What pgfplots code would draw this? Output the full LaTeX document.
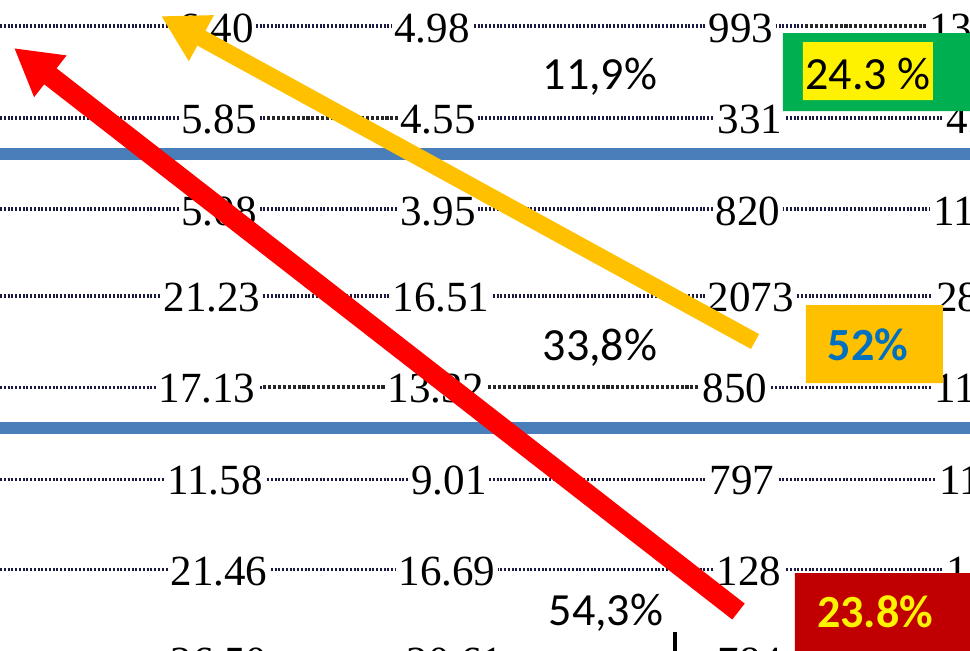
\documentclass[border=0pt]{standalone}
\usepackage{pgfplots}
\pgfplotsset{compat=1.18}
\usepackage{fontspec}
\setmainfont{Liberation Serif}
\newfontfamily\calibri{Carlito}
\usetikzlibrary{arrows.meta}
\definecolor{gold}{HTML}{FFC000}
\definecolor{rowblue}{HTML}{4A7EBB}
\definecolor{boxgreen}{HTML}{00B050}
\definecolor{darkred}{HTML}{C00000}
\definecolor{txtblue}{HTML}{0070C0}
\definecolor{leader}{HTML}{1A1A40}
\tikzset{
 num/.style={font=\fontsize{18.3pt}{20pt}\selectfont, fill=white, inner xsep=1.2pt, inner ysep=0pt, anchor=base},
 numw/.style={font=\fontsize{18.3pt}{20pt}\selectfont, fill=white, inner xsep=1.2pt, inner ysep=0pt, anchor=base west},
 pct/.style={font=\calibri\fontsize{19.6pt}{22pt}\selectfont, inner sep=0pt, anchor=base},
 pctb/.style={font=\calibri\bfseries\fontsize{19.6pt}{22pt}\selectfont, inner sep=0pt, anchor=base},
 dots/.style={line width=1.3pt, dash pattern=on 0.85pt off 0.75pt, color=leader},
 dense/.style={line width=1.7pt, dash pattern=on 1.3pt off 0.8pt, color=black!85},
}
\begin{document}
\begin{tikzpicture}[x=1pt,y=1pt]
\useasboundingbox (0,0) rectangle (412.6,276.5);
\clip (0,0) rectangle (412.6,276.5);
\begin{axis}[scale only axis, width=412.6pt, height=276.5pt,
  xmin=0, xmax=970, ymin=0, ymax=650, y dir=reverse,
  hide axis, no markers, clip=true]
% dotted leader rows
\addplot[dots] coordinates {(0,26) (970,26)};
\addplot[dots] coordinates {(0,118) (970,118)};
\addplot[dots] coordinates {(0,209) (970,209)};
\addplot[dots] coordinates {(0,296) (970,296)};
\addplot[dots] coordinates {(0,387) (970,387)};
\addplot[dots] coordinates {(0,479) (970,479)};
\addplot[dots] coordinates {(0,569) (970,569)};
% denser leader segments
\addplot[draw=white, line width=2pt] coordinates {(805,26) (925,26)};
\addplot[draw=white, line width=2pt] coordinates {(267,118) (398,118)};
\addplot[draw=white, line width=2pt] coordinates {(263,387) (387,387)};
\addplot[draw=white, line width=2pt] coordinates {(488,387) (700,387)};
\addplot[dense] coordinates {(805,26) (925,26)};
\addplot[dense] coordinates {(267,118) (398,118)};
\addplot[dense] coordinates {(263,387) (387,387)};
\addplot[dense] coordinates {(488,387) (700,387)};
% table numbers
\node[num] at (axis cs:216,42) {6.40};
\node[num] at (axis cs:432,42) {4.98};
\node[num] at (axis cs:741,42) {993};
\node[numw] at (axis cs:926,42) {13};
\node[num] at (axis cs:219,133) {5.85};
\node[num] at (axis cs:438,133) {4.55};
\node[num] at (axis cs:750,133) {331};
\node[numw] at (axis cs:943,133) {4.5};
\node[num] at (axis cs:219,225) {5.08};
\node[num] at (axis cs:438,225) {3.95};
\node[num] at (axis cs:748,225) {820};
\node[numw] at (axis cs:930,225) {11};
\node[num] at (axis cs:212,311) {21.23};
\node[num] at (axis cs:441,311) {16.51};
\node[num] at (axis cs:751,311) {2073};
\node[numw] at (axis cs:933,311) {28};
\node[num] at (axis cs:207,402) {17.13};
\node[num] at (axis cs:436,402) {13.32};
\node[num] at (axis cs:735,402) {850};
\node[numw] at (axis cs:931,402) {11};
\node[num] at (axis cs:215,494) {11.58};
\node[num] at (axis cs:449,494) {9.01};
\node[num] at (axis cs:742,494) {797};
\node[numw] at (axis cs:936,494) {11};
\node[num] at (axis cs:219,585) {21.46};
\node[num] at (axis cs:447,585) {16.69};
\node[num] at (axis cs:749,585) {128};
\node[numw] at (axis cs:943,585) {1};
\node[num] at (axis cs:219,676) {26.50};
\node[num] at (axis cs:455,676) {20.61};
\node[num] at (axis cs:750,676) {784};
% blue separators
\addplot[rowblue, line width=5.1pt] coordinates {(0,154) (970,154)};
\addplot[rowblue, line width=5.1pt] coordinates {(0,427.5) (970,427.5)};
% boxes
\addplot[fill=boxgreen, draw=none] coordinates {(783,33) (975,33) (975,111) (783,111) (783,33)};
\addplot[fill=yellow, draw=none] coordinates {(803,42) (933,42) (933,100) (803,100) (803,42)};
\addplot[fill=gold, draw=none] coordinates {(806,305) (943,305) (943,383) (806,383) (806,305)};
\addplot[fill=darkred, draw=none] coordinates {(795,573) (975,573) (975,660) (795,660) (795,573)};
% small black bar
\addplot[black, line width=1.7pt] coordinates {(675,632) (675,660)};
% arrows
\addplot[gold, line width=7.2pt, -{Triangle[length=19.6pt,width=20.8pt]}] coordinates {(755,341.5) (161,16)};
\addplot[red, line width=8.6pt, -{Triangle[length=19.6pt,width=21pt]}] coordinates {(738.5,611.5) (14,48)};
% percentage labels
\node[pct] at (axis cs:600,89) {11,9\%};
\node[pct] at (axis cs:868,89) {24.3 \%};
\node[pct] at (axis cs:600,360) {33,8\%};
\node[pctb, text=txtblue] at (axis cs:868,360) {52\%};
\node[pct] at (axis cs:606,625) {54,3\%};
\node[pctb, text=yellow] at (axis cs:875,627) {23.8\%};
\end{axis}
\end{tikzpicture}
\end{document}
